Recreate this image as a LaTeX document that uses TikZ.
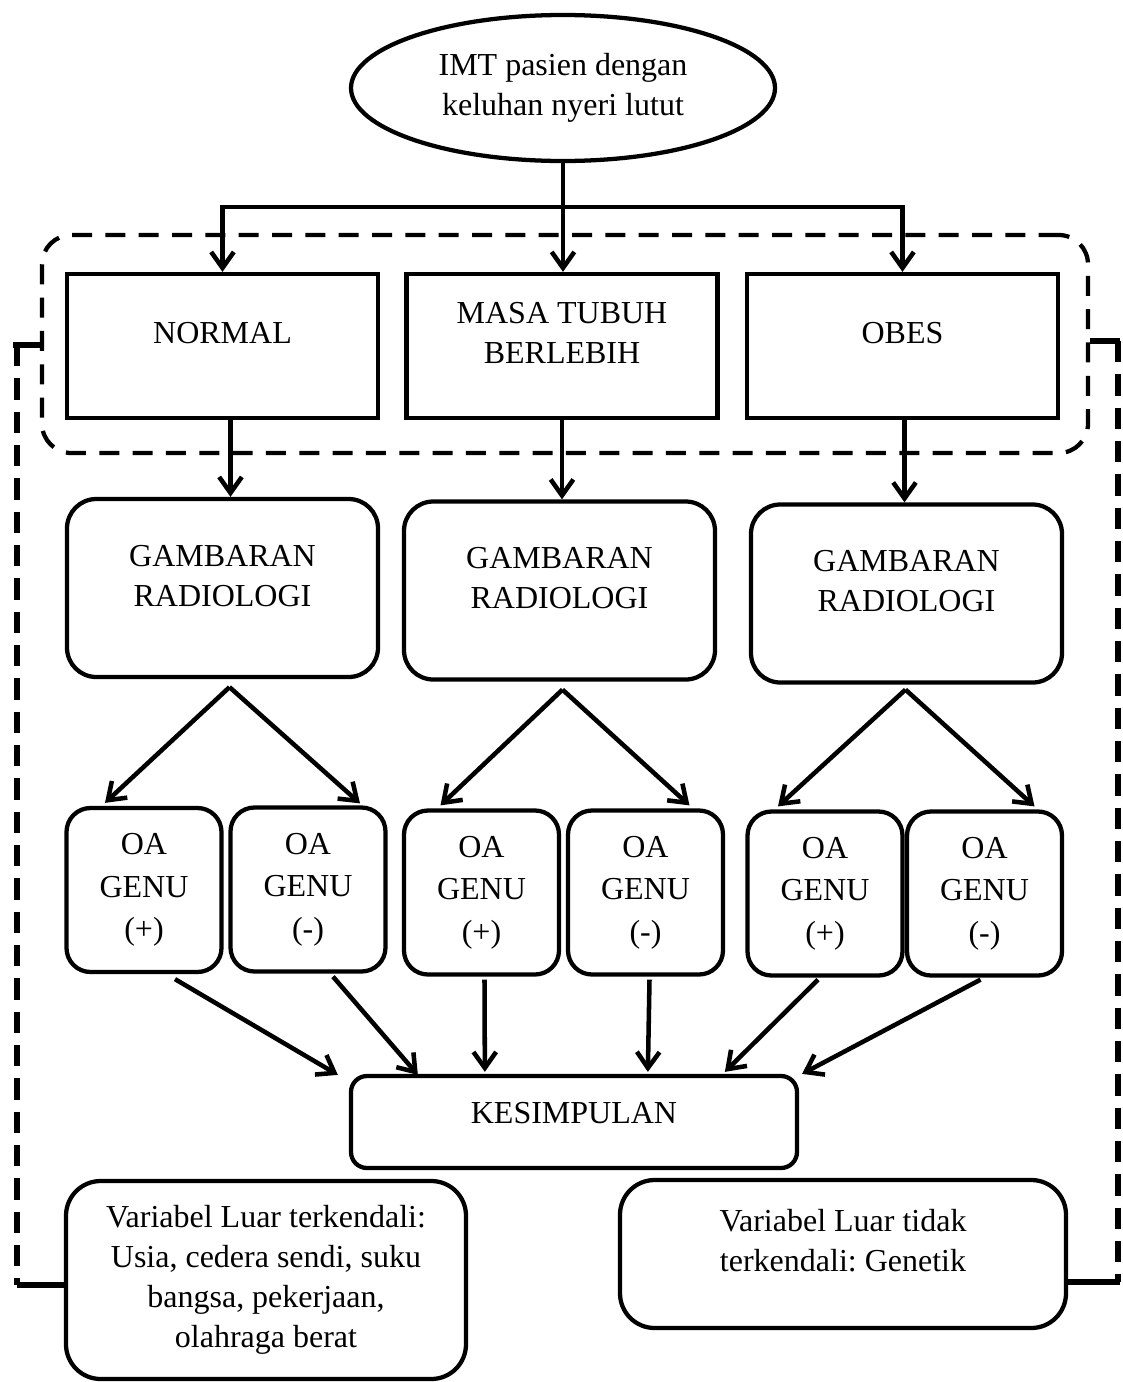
\documentclass[tikz,border=0pt]{standalone}
\usepackage{fontspec}
\setmainfont{Liberation Serif}
\usetikzlibrary{arrows.meta,calc,shapes.geometric}
\def\PX{0.75pt}
\frenchspacing
\begin{document}
\begin{tikzpicture}[x=0.75pt,y=-0.75pt,
  every node/.style={font=\fontsize{24}{30}\selectfont, align=center, inner sep=0pt},
  sqbox/.style={draw, line width=3.2pt, minimum width=311*\PX, minimum height=144*\PX},
  gbox/.style={draw, line width=3.2pt, rounded corners=22pt, minimum width=311*\PX, minimum height=178*\PX},
  oabox/.style={draw, line width=3.2pt, rounded corners=18pt, minimum width=155*\PX, minimum height=164*\PX, font=\fontsize{24}{32}\selectfont},
  vbox/.style={draw, line width=3.2pt, rounded corners=26pt},
  arr/.style={line width=3.4pt, -{Straight Barb[length=12pt,width=17pt]}},
  conn/.style={line width=4pt},
  grpdash/.style={line width=3.2pt, dash pattern=on 15pt off 10pt},
  sidedash/.style={line width=4.5pt, dash pattern=on 16pt off 9pt}
]
\useasboundingbox (0,0) rectangle (1123,1382);

% dashed group
\node[draw, grpdash, rounded corners=22pt, minimum width=1046*\PX, minimum height=218*\PX] (grp) at (565,344) {};

% top ellipse
\node[ellipse, draw, line width=3.2pt, minimum width=424*\PX, minimum height=146*\PX] (imt) at (563,88) {IMT pasien dengan\\keluhan nyeri lutut};

% category boxes
\node[sqbox, label={[yshift=10pt]center:NORMAL}] (normal) at (222.5,346) {};
\node[sqbox, label={[yshift=10pt]center:MASA TUBUH\\BERLEBIH}] (masa) at (562,346) {};
\node[sqbox, label={[yshift=10pt]center:OBES}] (obes) at (902.5,346) {};

% gambaran boxes
\node[gbox, label={[yshift=9pt]center:GAMBARAN\\RADIOLOGI}] (gam1) at (222.5,588) {};
\node[gbox, label={[yshift=9pt]center:GAMBARAN\\RADIOLOGI}] (gam2) at (559.5,590.5) {};
\node[gbox, label={[yshift=9pt]center:GAMBARAN\\RADIOLOGI}] (gam3) at (906.5,593.5) {};

% OA boxes
\node[oabox] (oa1) at (144,890) {OA\\GENU\\(+)};
\node[oabox] (oa2) at (308,889.5) {OA\\GENU\\(-)};
\node[oabox] (oa3) at (481.5,892.5) {OA\\GENU\\(+)};
\node[oabox] (oa4) at (645.5,892.5) {OA\\GENU\\(-)};
\node[oabox] (oa5) at (825,893.5) {OA\\GENU\\(+)};
\node[oabox] (oa6) at (984.5,893.5) {OA\\GENU\\(-)};

% conclusion
\node[draw, line width=3.2pt, rounded corners=12pt, minimum width=446*\PX, minimum height=92*\PX, label={[yshift=7pt]center:KESIMPULAN}] (kes) at (574,1122) {};

% external variables
\node[vbox, minimum width=400*\PX, minimum height=198*\PX] (vl) at (266,1280) {Variabel Luar terkendali:\\Usia, cedera sendi, suku\\bangsa, pekerjaan,\\olahraga berat};
\node[vbox, minimum width=446*\PX, minimum height=148*\PX, label={[yshift=10pt]center:Variabel Luar tidak\\terkendali: Genetik}] (vt) at (843,1254) {};

% top connectors
\coordinate (split) at (563,207);
\draw[arr] (imt.south) -- (imt.south |- masa.north);
\draw[arr] (split) -| (normal.north);
\draw[arr] (split) -| (obes.north);

% category -> gambaran
\draw[arr] ([xshift=6pt]normal.south) -- ([xshift=6pt]normal.south |- gam1.north);
\draw[arr] (masa.south) -- (masa.south |- gam2.north);
\draw[arr] ([xshift=1.5pt]obes.south) -- ([xshift=1.5pt]obes.south |- gam3.north);

% gambaran -> OA
\coordinate (s1) at ($(gam1.south)+(7,8)$);
\coordinate (s2) at ($(gam2.south)+(3,8)$);
\coordinate (s3) at ($(gam3.south)+(-1,5)$);
\draw[arr] (s1) -- ($(oa1.north)+(-39,-3)$);
\draw[arr] (s1) -- ($(oa2.north)+(52,-2)$);
\draw[arr] (s2) -- ($(oa3.north)+(-41,-3)$);
\draw[arr] (s2) -- ($(oa4.north)+(44,-3)$);
\draw[arr] (s3) -- ($(oa5.north)+(-47,-3)$);
\draw[arr] (s3) -- ($(oa6.north)+(50,-3)$);

% OA -> kesimpulan
\draw[arr] ($(oa1.south)+(31,5)$) -- ($(kes.north west)+(-11,1)$);
\draw[arr] ($(oa2.south)+(25,3)$) -- ($(kes.north west)+(69,1)$);
\draw[arr] ($(oa3.south)+(3,3)$) -- ($(kes.north west)+(136,-2)$);
\draw[arr] ($(oa4.south)+(4,3)$) -- ($(kes.north west)+(299,-2)$);
\draw[arr] ($(oa5.south)+(-7,2)$) -- ($(kes.north west)+(376,-2)$);
\draw[arr] ($(oa6.south)+(-4,2)$) -- ($(kes.north east)+(3,0)$);

% side brackets
\coordinate (lt) at (17,345);
\coordinate (lb) at (17,1285);
\coordinate (rt) at (1118,341);
\coordinate (rb) at (1118,1282);
\draw[conn] ($(lt)+(-4,0)$) -- (lt -| grp.west);
\draw[sidedash] (lt) -- (lb);
\draw[conn] (lb) -- (lb -| vl.west);
\draw[conn] (rt -| grp.east) -- ($(rt)+(2,0)$);
\draw[sidedash] (rt) -- (rb);
\draw[conn] (rb -| vt.east) -- ($(rb)+(2,0)$);
\end{tikzpicture}
\end{document}
